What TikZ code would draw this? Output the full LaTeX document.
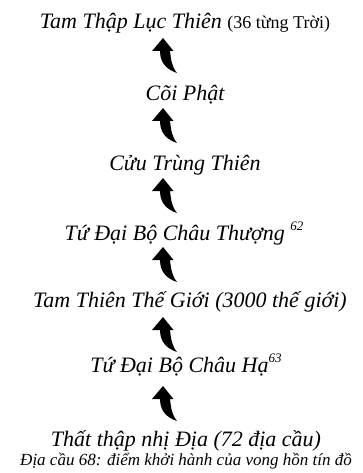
\documentclass[tikz,border=0pt]{standalone}
\usepackage{fontspec}
\setmainfont{Liberation Serif}
\newcommand{\bigit}{\fontsize{22}{26}\selectfont\itshape}
\newcommand{\supit}[1]{\raisebox{0.45em}{\fontsize{13}{15}\selectfont\itshape #1}}
\begin{document}
\begin{tikzpicture}[x=1pt,y=1pt,
  lbl/.style={anchor=base,inner sep=0pt,font=\bigit},
  curvup/.pic={\fill[black] (0,0) -- (10.5,-13) -- (7,-13)
     .. controls (8,-22) and (9,-29) .. (14,-35)
     .. controls (5,-32) and (-3,-26) .. (-3,-13) -- (-11,-13) -- cycle;}]
\useasboundingbox (0,0) rectangle (363,-473);
\node[lbl] (n1) at (185,-29) {Tam Thập Lục Thiên {\fontsize{18}{22}\selectfont\upshape(36 từng Trời)}};
\node[lbl] (n2) at (185,-101) {Cõi Phật};
\node[lbl] (n3) at (185,-170) {Cửu Trùng Thiên};
\node[lbl] (n4) at (184,-240) {Tứ Đại Bộ Châu Thượng \supit{62}};
\node[lbl] (n5) at (190,-307) {Tam Thiên Thế Giới (3000 thế giới)};
\node[lbl] (n6) at (186,-372) {Tứ Đại Bộ Châu Hạ\supit{63}};
\node[lbl] (n7) at (186,-446) {Thất thập nhị Địa (72 địa cầu)};
\node[lbl,font=\fontsize{17}{20}\selectfont\itshape] (n8) at (186,-465) {Địa cầu 68: điểm khởi hành của vong hồn tín đồ};
\pic at (163,-38) {curvup};
\pic at (163,-108) {curvup};
\pic at (163,-178) {curvup};
\pic at (163,-247) {curvup};
\pic at (163,-317) {curvup};
\pic at (163,-386) {curvup};
\end{tikzpicture}
\end{document}
